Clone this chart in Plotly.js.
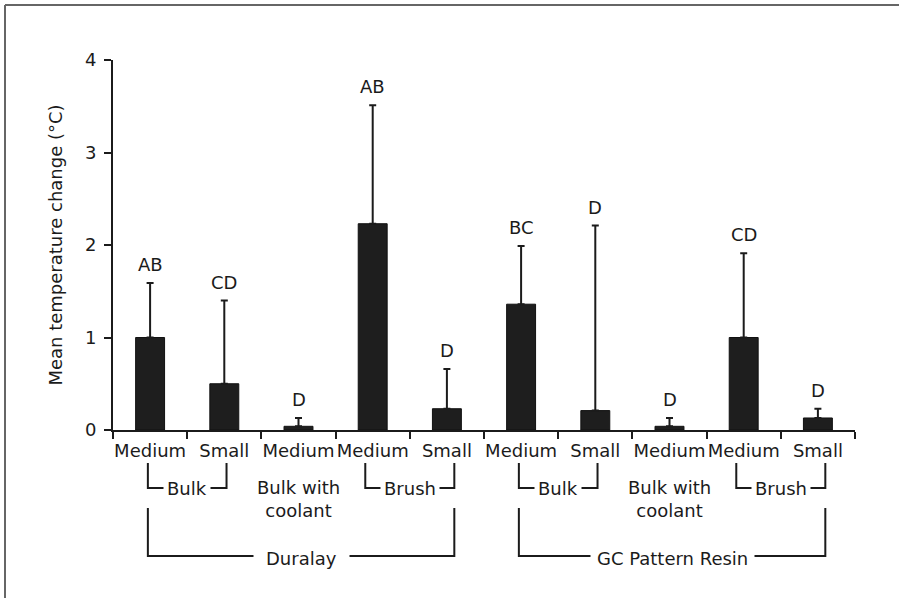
<!DOCTYPE html>
<html>
<head>
<meta charset="utf-8">
<script src="https://cdn.plot.ly/plotly-3.0.1.min.js"></script>
<style>html,body{margin:0;padding:0;background:#fff;}#chart{width:899px;height:602px;}</style>
</head>
<body>
<div id="chart"></div>
<script>
// ---- data ----
const materials = ['Duralay','Duralay','Duralay','Duralay','Duralay','GC Pattern Resin','GC Pattern Resin','GC Pattern Resin','GC Pattern Resin','GC Pattern Resin'];
const methods = ['Bulk','Bulk','Bulk with coolant','Brush','Brush','Bulk','Bulk','Bulk with coolant','Brush','Brush'];
const sizes = ['Medium','Small','Medium','Medium','Small','Medium','Small','Medium','Medium','Small'];
const meanChange = [1.0, 0.5, 0.04, 2.23, 0.23, 1.36, 0.21, 0.04, 1.0, 0.13];
const sdUpper = [0.59, 0.9, 0.09, 1.28, 0.43, 0.63, 2.0, 0.09, 0.91, 0.1];
const letters = ['AB','CD','D','AB','D','BC','D','D','CD','D'];
const yTicks = [0, 1, 2, 3, 4];
const methodLabels = ['Bulk','Bulk with<br>coolant','Brush','Bulk','Bulk with<br>coolant','Brush'];
const methodFirst = [0, 2, 3, 5, 7, 8];
const methodLast = [1, 2, 4, 6, 7, 9];
const materialLabels = ['Duralay','GC Pattern Resin'];
const materialFirst = [0, 5];
const materialLast = [4, 9];

// ---- layout helpers ----
const W = 899, H = 602;
const M = {l: 113, r: 44, t: 60, b: 172};
const plotW = W - M.l - M.r, plotH = H - M.t - M.b;
const py = p => (H - M.b - p) / plotH;   // pixel row -> paper y
const px = p => (p - M.l) / plotW;       // pixel col -> paper x
const ids = sizes.map((s, i) => materials[i] + ' | ' + methods[i] + ' | ' + s);
const ink = '#1b1b1b';
const fontFam = 'DejaVu Sans, Verdana, sans-serif';
const fs = 18;
const padFor = {'Bulk': 0.03, 'Brush': 0.1};

const shapes = [];
const annotations = [];

// frame (scan border)
shapes.push({type: 'line', xref: 'paper', yref: 'paper', x0: px(5), x1: px(5), y0: py(598), y1: py(5), line: {color: '#666', width: 2}});
shapes.push({type: 'line', xref: 'paper', yref: 'paper', x0: px(5), x1: px(899), y0: py(5), y1: py(5), line: {color: '#666', width: 2}});

// significance letters
letters.forEach((t, i) => {
  annotations.push({x: ids[i], y: meanChange[i] + sdUpper[i], xref: 'x', yref: 'y', text: t,
    showarrow: false, yanchor: 'bottom', yshift: 6, font: {family: fontFam, size: fs, color: ink}});
});

// method brackets
const lvl1Top = py(463), lvl1Line = py(488);
methodLabels.forEach((lab, k) => {
  const a = methodFirst[k], b = methodLast[k];
  if (a === b) {
    annotations.push({x: a, y: py(499), xref: 'x', yref: 'paper', text: lab, showarrow: false,
      yanchor: 'middle', font: {family: fontFam, size: fs, color: ink}});
    return;
  }
  const pad = padFor[lab] || 0.03;
  const x0 = a - pad, x1 = b + pad;
  shapes.push({type: 'path', xref: 'x', yref: 'paper',
    path: 'M' + x0 + ',' + lvl1Top + ' L' + x0 + ',' + lvl1Line + ' L' + x1 + ',' + lvl1Line + ' L' + x1 + ',' + lvl1Top,
    line: {color: ink, width: 2}});
  annotations.push({x: (x0 + x1) / 2, y: lvl1Line, xref: 'x', yref: 'paper', text: lab, showarrow: false,
    yanchor: 'middle', bgcolor: '#fff', borderpad: 3, font: {family: fontFam, size: fs, color: ink}});
});

// material brackets
const lvl2Top = py(508), lvl2Line = py(556);
materialLabels.forEach((lab, k) => {
  const a = materialFirst[k], b = materialLast[k];
  const x0 = a - (padFor[methods[a]] || 0.03), x1 = b + (padFor[methods[b]] || 0.03);
  shapes.push({type: 'path', xref: 'x', yref: 'paper',
    path: 'M' + x0 + ',' + lvl2Top + ' L' + x0 + ',' + lvl2Line + ' L' + x1 + ',' + lvl2Line + ' L' + x1 + ',' + lvl2Top,
    line: {color: ink, width: 2}});
  annotations.push({x: (x0 + x1) / 2, y: py(558), xref: 'x', yref: 'paper', text: lab, showarrow: false,
    yanchor: 'middle', bgcolor: '#fff', borderpad: k === 0 ? 12 : 6, font: {family: fontFam, size: fs, color: ink}});
});

const trace = {
  type: 'bar', x: ids, y: meanChange, width: 0.39,
  marker: {color: '#1e1e1e', line: {color: '#111', width: 1}},
  error_y: {type: 'data', symmetric: false, array: sdUpper, arrayminus: sdUpper.map(() => 0),
    color: ink, thickness: 2, width: 3.5},
  hoverinfo: 'none'
};

const layout = {
  width: W, height: H,
  margin: M,
  paper_bgcolor: '#fff', plot_bgcolor: '#fff',
  showlegend: false,
  font: {family: fontFam, size: fs, color: ink},
  xaxis: {
    type: 'category', categoryorder: 'array', categoryarray: ids,
    tickmode: 'array', tickvals: ids, ticktext: sizes, tickangle: 0,
    tickson: 'boundaries', ticks: 'outside', ticklen: 7, tickwidth: 2, tickcolor: ink,
    showline: true, linecolor: ink, linewidth: 2, showgrid: false, zeroline: false,
    range: [-0.5, ids.length - 0.5], ticklabelstandoff: 3,
    tickfont: {family: fontFam, size: fs, color: ink}
  },
  yaxis: {
    range: [0, 4], tickmode: 'array', tickvals: yTicks, ticktext: yTicks.map(String),
    ticks: 'outside', ticklen: 7, tickwidth: 2, tickcolor: ink,
    showline: true, linecolor: ink, linewidth: 2, showgrid: false, zeroline: false,
    ticklabelstandoff: 4,
    tickfont: {family: fontFam, size: fs, color: ink},
    title: {text: 'Mean temperature change (°C)', standoff: 18, font: {family: fontFam, size: fs, color: ink}}
  },
  shapes: shapes,
  annotations: annotations
};

Plotly.newPlot('chart', [trace], layout, {staticPlot: true});
</script>
</body>
</html>
